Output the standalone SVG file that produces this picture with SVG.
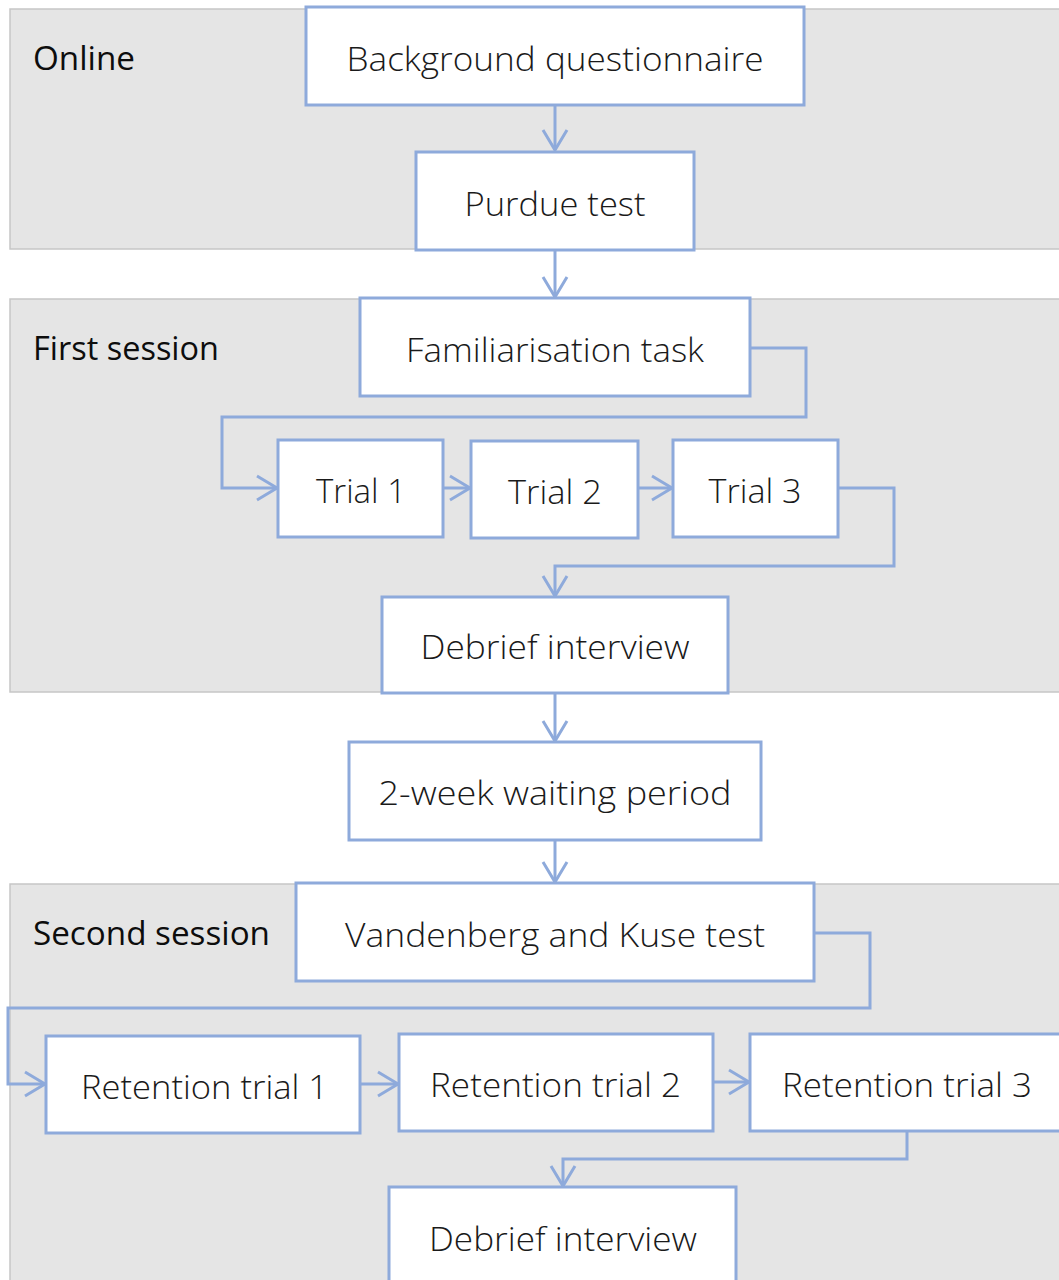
<svg xmlns="http://www.w3.org/2000/svg" width="1059" height="1280" viewBox="0 0 1059 1280">
<style>
.panel{fill:#e5e5e5;stroke:#c6c6c6;stroke-width:1.5}
.box{fill:#ffffff;stroke:#8eaadb;stroke-width:3}
.lbl{font-family:"Open Sans","Noto Sans","DejaVu Sans",sans-serif;font-size:33px;fill:#0d0d0d}
.txt{font-family:"Open Sans","Noto Sans","DejaVu Sans",sans-serif;font-size:33px;font-weight:300;fill:#1a1a1a;text-anchor:middle}
.con{fill:none;stroke:#8eaadb;stroke-width:3;marker-end:url(#arr)}
</style>
<defs>
<marker id="arr" markerUnits="userSpaceOnUse" markerWidth="26" markerHeight="28" viewBox="0 0 26 28" refX="22" refY="14" orient="auto">
<path d="M2,2 L22,14 L2,26" fill="none" stroke="#8eaadb" stroke-width="3"/>
</marker>
</defs>
<rect width="1059" height="1280" fill="#ffffff"/>
<g id="panels">
<g id="panel-online"><rect class="panel" x="10" y="9" width="1070" height="240"/><text class="lbl" x="33" y="70" textLength="102" lengthAdjust="spacingAndGlyphs">Online</text></g>
<g id="panel-first"><rect class="panel" x="10" y="299" width="1070" height="393"/><text class="lbl" x="33" y="360" textLength="186" lengthAdjust="spacingAndGlyphs">First session</text></g>
<g id="panel-second"><rect class="panel" x="10" y="884" width="1070" height="420"/><text class="lbl" x="33" y="945" textLength="237" lengthAdjust="spacingAndGlyphs">Second session</text></g>
</g>
<g id="connectors">
<path class="con" d="M555,105 V150"/>
<path class="con" d="M555,250 V297"/>
<path class="con" d="M750,348 H806 V417 H222 V488 H277"/>
<path class="con" d="M443,488 H470"/>
<path class="con" d="M638,488 H672"/>
<path class="con" d="M838,488 H894 V566 H555 V596"/>
<path class="con" d="M555,693 V741"/>
<path class="con" d="M555,840 V882"/>
<path class="con" d="M814,933 H870 V1008 H8 V1084 H45"/>
<path class="con" d="M360,1084 H398"/>
<path class="con" d="M713,1082 H749"/>
<path class="con" d="M907,1131 V1159 H563 V1186"/>
</g>
<g id="n-background"><rect class="box" x="306" y="7" width="498" height="98"/><text class="txt" x="555" y="71" textLength="417" lengthAdjust="spacingAndGlyphs">Background questionnaire</text></g>
<g id="n-purdue"><rect class="box" x="416" y="152" width="278" height="98"/><text class="txt" x="555" y="216" textLength="181" lengthAdjust="spacingAndGlyphs">Purdue test</text></g>
<g id="n-familiarisation"><rect class="box" x="360" y="298" width="390" height="98"/><text class="txt" x="555" y="362" textLength="298" lengthAdjust="spacingAndGlyphs">Familiarisation task</text></g>
<g id="n-trial1"><rect class="box" x="278" y="440" width="165" height="97"/><text class="txt" x="361" y="503" textLength="90" lengthAdjust="spacingAndGlyphs">Trial 1</text></g>
<g id="n-trial2"><rect class="box" x="471" y="441" width="167" height="97"/><text class="txt" x="555" y="504" textLength="94" lengthAdjust="spacingAndGlyphs">Trial 2</text></g>
<g id="n-trial3"><rect class="box" x="673" y="440" width="165" height="97"/><text class="txt" x="755" y="503" textLength="93" lengthAdjust="spacingAndGlyphs">Trial 3</text></g>
<g id="n-debrief1"><rect class="box" x="382" y="597" width="346" height="96"/><text class="txt" x="555" y="659" textLength="269" lengthAdjust="spacingAndGlyphs">Debrief interview</text></g>
<g id="n-waiting"><rect class="box" x="349" y="742" width="412" height="98"/><text class="txt" x="555" y="805" textLength="353" lengthAdjust="spacingAndGlyphs">2-week waiting period</text></g>
<g id="n-vandenberg"><rect class="box" x="296" y="883" width="518" height="98"/><text class="txt" x="555" y="947" textLength="420" lengthAdjust="spacingAndGlyphs">Vandenberg and Kuse test</text></g>
<g id="n-ret1"><rect class="box" x="46" y="1036" width="314" height="97"/><text class="txt" x="204.5" y="1099" textLength="247" lengthAdjust="spacingAndGlyphs">Retention trial 1</text></g>
<g id="n-ret2"><rect class="box" x="399" y="1034" width="314" height="97"/><text class="txt" x="555.5" y="1097" textLength="251" lengthAdjust="spacingAndGlyphs">Retention trial 2</text></g>
<g id="n-ret3"><rect class="box" x="750" y="1034" width="330" height="97"/><text class="txt" x="907" y="1097" textLength="250" lengthAdjust="spacingAndGlyphs">Retention trial 3</text></g>
<g id="n-debrief2"><rect class="box" x="389" y="1187" width="347" height="110"/><text class="txt" x="563" y="1251" textLength="268" lengthAdjust="spacingAndGlyphs">Debrief interview</text></g>
</svg>
